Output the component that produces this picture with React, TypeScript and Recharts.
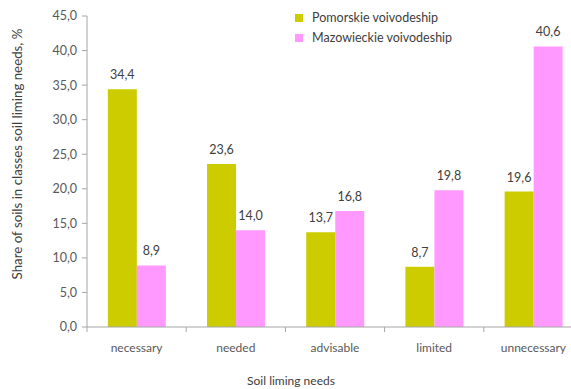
import { Bar, BarChart, LabelList, Legend, XAxis, YAxis } from "recharts"

const categories = ["necessary", "needed", "advisable", "limited", "unnecessary"]
const pomorskie = [34.4, 23.6, 13.7, 8.7, 19.6]
const mazowieckie = [8.9, 14.0, 16.8, 19.8, 40.6]
const yTicks = [0, 5, 10, 15, 20, 25, 30, 35, 40, 45]

const seriesNames = ["Pomorskie voivodeship", "Mazowieckie voivodeship"]
const colors = ["#CCCC00", "#FF99FF"]

const data = categories.map((name, i) => ({
  name,
  pomorskie: pomorskie[i],
  mazowieckie: mazowieckie[i],
}))

// the plot runs a little past the right edge of the frame, like the original figure
const W = 600
const H = 389
const margin = { top: 16, right: 17, bottom: 0, left: 27 }
const yAxisWidth = 60
const xAxisHeight = 62
const plotBottom = H - margin.bottom - xAxisHeight
const plotWidth = W - margin.left - margin.right - yAxisWidth
const band = plotWidth / categories.length

const font = "Lato, 'Open Sans', sans-serif"
const axisColor = "#A6A6A6"
const textColor = "#595959"

const comma = (v: number) => v.toFixed(1).replace(".", ",")

const CategoryTick = (props: any) => {
  const { x, payload, index } = props
  const left = x - band / 2
  return (
    <g>
      <line x1={left} x2={left} y1={plotBottom} y2={plotBottom + 5} stroke={axisColor} />
      {index === categories.length - 1 && (
        <line x1={left + band} x2={left + band} y1={plotBottom} y2={plotBottom + 5} stroke={axisColor} />
      )}
      <text x={x} y={plotBottom + 25} textAnchor="middle" fill={textColor} fontSize={12} fontFamily={font}>
        {payload.value}
      </text>
    </g>
  )
}

const LegendBox = () => (
  <div style={{ fontFamily: font, fontSize: 12.5, color: "#404040", lineHeight: "20px" }}>
    {seriesNames.map((n, i) => (
      <div key={n} style={{ display: "flex", alignItems: "center" }}>
        <span style={{ width: 8, height: 8, background: colors[i], marginRight: 9 }} />
        {n}
      </div>
    ))}
  </div>
)

export default function App() {
  return (
    <div
      style={{
        position: "fixed",
        left: 0,
        top: 0,
        width: 571,
        height: 389,
        overflow: "hidden",
        background: "#fff",
      }}
    >
      <BarChart width={W} height={H} data={data} margin={margin} barCategoryGap="21%" barGap={0}>
        <XAxis
          dataKey="name"
          height={xAxisHeight}
          axisLine={{ stroke: axisColor }}
          tickLine={false}
          tick={<CategoryTick />}
          interval={0}
          label={{
            value: "Soil liming needs",
            content: () => (
              <text x={291} y={385} textAnchor="middle" fill="#404040" fontSize={12} fontFamily={font}>
                Soil liming needs
              </text>
            ),
          }}
        />
        <YAxis
          width={yAxisWidth}
          domain={[0, 45]}
          ticks={yTicks}
          tickFormatter={comma}
          axisLine={{ stroke: axisColor }}
          tickLine={{ stroke: axisColor }}
          tickSize={5}
          tickMargin={5}
          tick={{ fill: textColor, fontSize: 12.5, fontFamily: font }}
          label={{
            value: "Share of soils in classes soil liming needs, %",
            content: () => (
              <text
                x={22}
                y={154}
                transform="rotate(-90 22 154)"
                textAnchor="middle"
                fill="#404040"
                fontSize={13.3}
                fontFamily={font}
              >
                Share of soils in classes soil liming needs, %
              </text>
            ),
          }}
        />
        <Legend
          layout="vertical"
          align="center"
          verticalAlign="middle"
          content={<LegendBox />}
          wrapperStyle={{ position: "absolute", left: 295, top: 8, width: 200, height: 40 }}
        />
        <Bar dataKey="pomorskie" name={seriesNames[0]} fill={colors[0]} isAnimationActive={false}>
          <LabelList dataKey="pomorskie" position="top" offset={10} formatter={comma} fill="#404040" fontSize={12.5} fontFamily={font} />
        </Bar>
        <Bar dataKey="mazowieckie" name={seriesNames[1]} fill={colors[1]} isAnimationActive={false}>
          <LabelList dataKey="mazowieckie" position="top" offset={10} formatter={comma} fill="#404040" fontSize={12.5} fontFamily={font} />
        </Bar>
      </BarChart>
    </div>
  )
}
